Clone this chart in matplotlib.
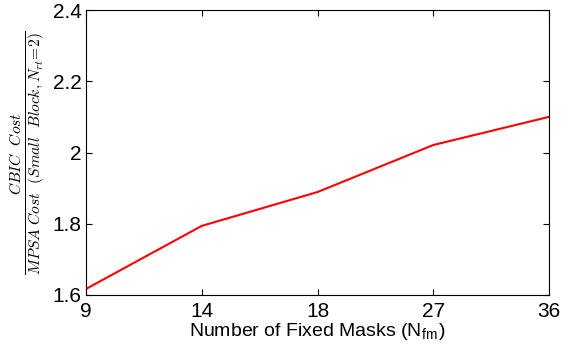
import matplotlib
matplotlib.use('Agg')
import matplotlib.pyplot as plt

# data
masks = ['9', '14', '18', '27', '36']
cost_ratio = [1.617, 1.794, 1.889, 2.021, 2.100]
y_ticks = [1.6, 1.8, 2.0, 2.2, 2.4]
y_tick_labels = ['1.6', '1.8', '2', '2.2', '2.4']

plt.rcParams['font.family'] = ['Liberation Sans', 'DejaVu Sans']
plt.rcParams['mathtext.fontset'] = 'cm'

fig = plt.figure(figsize=(5.69, 3.49), dpi=100)
ax = fig.add_axes([86 / 569, 1 - 295 / 349, (549 - 86) / 569, (295 - 10) / 349])

x = list(range(len(masks)))
ax.plot(x, cost_ratio, color='red', linewidth=1.5)

ax.set_xlim(0, len(masks) - 1)
ax.set_ylim(1.6, 2.4)
ax.set_xticks(x)
ax.set_xticklabels(masks)
ax.set_yticks(y_ticks)
ax.set_yticklabels(y_tick_labels)
ax.tick_params(direction='in', top=True, right=True, labelsize=15, length=4)
ax.tick_params(axis='x', pad=5)
ax.tick_params(axis='y', pad=3)
for s in ax.spines.values():
    s.set_linewidth(0.8)

ax.set_xlabel(r'Number of Fixed Masks (N$_{\mathregular{fm}}$)', fontsize=14, labelpad=0)
ax.set_ylabel(r'$\frac{CBIC\ \ Cost}{MPSA\ Cost\ \ (Small\ \ Block, N_{rt}\!=\!2)}$',
              fontsize=16, labelpad=4)

fig.savefig('out.png', dpi=100)
